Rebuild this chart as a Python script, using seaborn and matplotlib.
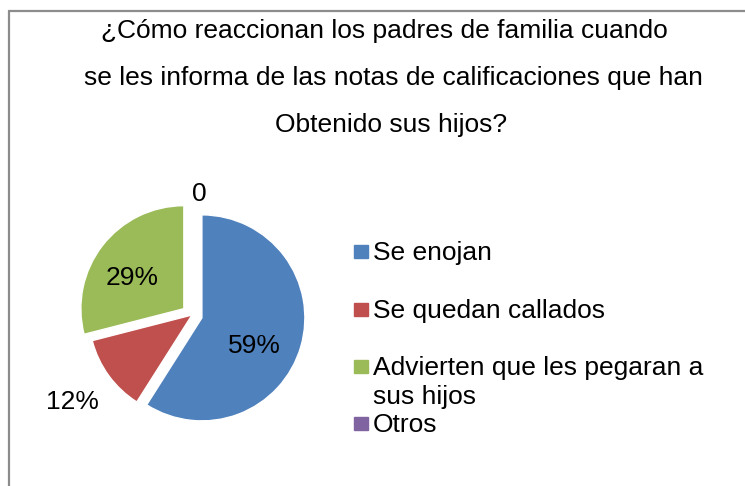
import numpy as np
import matplotlib
matplotlib.use("Agg")
import matplotlib.pyplot as plt
from matplotlib.patches import Rectangle
from matplotlib.lines import Line2D
import seaborn as sns

# datos
categorias = ['Se enojan', 'Se quedan callados',
              'Advierten que les pegaran a\nsus hijos', 'Otros']
valores = [59, 12, 29, 0]
etiquetas = ['59%', '12%', '29%', '0']
colores = ['#4F81BD', '#C0504D', '#9BBB59', '#8064A2']
titulo = ['¿Cómo reaccionan los padres de familia cuando',
          'se les informa de las notas de calificaciones que han',
          'Obtenido sus hijos?']

sns.set_theme(style='white')
plt.rcParams['font.family'] = ['Liberation Sans', 'DejaVu Sans']
plt.rcParams['text.color'] = 'black'

W, H = 745, 486
fig = plt.figure(figsize=(W / 100, H / 100), dpi=100)

def fx(px):
    return px / W

def fy(py):
    return 1 - py / H

# marco del grafico (solo arriba e izquierda visibles)
fig.add_artist(Line2D([fx(8.5), fx(8.5)], [fy(11), 0], color='#8c8c8c', lw=1.6))
fig.add_artist(Line2D([fx(8.5), 1], [fy(11), fy(11)], color='#8c8c8c', lw=1.6))

# titulo
for txt, cx, by in zip(titulo, [384, 393, 391], [38, 85, 132]):
    fig.text(fx(cx), fy(by), txt, ha='center', va='baseline', fontsize=19)

# pastel
cx, cy, r = 192, 315, 103
L = 1.4
ax = fig.add_axes([fx(cx - L * r), fy(cy + L * r), 2 * L * r / W, 2 * L * r / H])
explode = [0.1, 0.0, 0.1, 0.1]
wedges, _ = ax.pie(valores, colors=colores, startangle=90, counterclock=False,
                   explode=explode, radius=1)
ax.set_xlim(-L, L)
ax.set_ylim(-L, L)
ax.set_aspect('equal')
ax.axis('off')

# posicion de etiquetas: distancia radial y giro respecto al angulo medio
dist = [0.58, 1.43, 0.58, 1.08]
giro = [-12, 0, 7, -4]
for w, lab, d, g, e in zip(wedges, etiquetas, dist, giro, explode):
    mid = np.deg2rad((w.theta1 + w.theta2) / 2)
    ang = mid + np.deg2rad(g)
    x = e * np.cos(mid) + d * np.cos(ang)
    y = e * np.sin(mid) + d * np.sin(ang)
    ax.text(x, y, lab, ha='center', va='center', fontsize=19)

# leyenda
base = [260, 318, 375, 432]
for cat, col, b in zip(categorias, colores, base):
    fig.add_artist(Rectangle((fx(354), fy(b - 2)), 14 / W, 13 / H,
                             color=col, transform=fig.transFigure))
    for i, linea in enumerate(cat.split('\n')):
        fig.text(fx(373), fy(b + 29 * i), linea, ha='left', va='baseline',
                 fontsize=19)

fig.savefig('out.png', dpi=100)
